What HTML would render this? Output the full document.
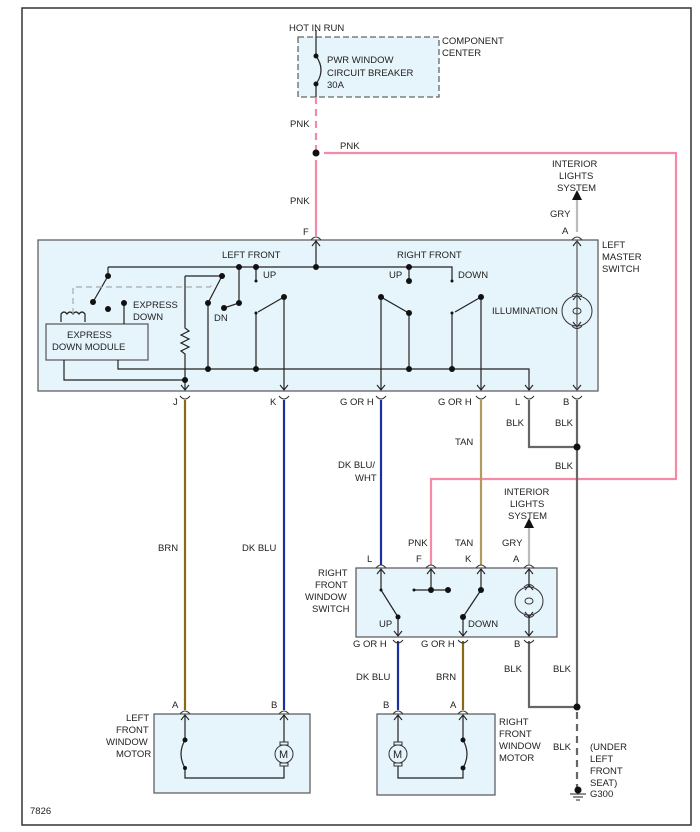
<!DOCTYPE html>
<html><head><meta charset="utf-8"><style>
html,body{margin:0;padding:0;background:#fff}
svg{display:block}
text{font-family:"Liberation Sans",sans-serif;font-size:9.5px;fill:#222}
</style></head><body>
<svg width="700" height="832" viewBox="0 0 700 832" xmlns="http://www.w3.org/2000/svg">
<rect x="22" y="8" width="669" height="817" fill="#fff" stroke="#333" stroke-width="1.5"/>
<g fill="#e6f4fb" stroke="#555" stroke-width="1.2">
<rect x="38" y="240" width="560" height="151"/>
<rect x="356" y="568" width="201" height="69"/>
<rect x="154" y="714" width="156" height="79"/>
<rect x="377" y="714" width="118" height="81"/>
<rect x="46" y="324" width="102" height="36"/>
</g>
<rect x="298" y="37" width="141" height="60" fill="#e6f4fb" stroke="#666" stroke-width="1.3" stroke-dasharray="6,3"/>

<g fill="none" stroke-width="2.2">
<path d="M316 97 V150" stroke="#f48aa6" stroke-dasharray="7,5"/>
<path d="M316 160 V236 M324 153 H676 V479 H431 V565" stroke="#f48aa6"/>
<path d="M185 400 V710" stroke="#8b6914"/>
<path d="M284 400 V710" stroke="#1a2fa0"/>
<path d="M381 400 V565" stroke="#1a2fa0"/>
<path d="M481 400 V565" stroke="#b09a5e"/>
<path d="M398 641 V710" stroke="#1a2fa0"/>
<path d="M463 641 V710" stroke="#8b6914"/>
<path d="M529 400 V447 H577 M577 400 V707 M529 641 V707 H577" stroke="#666"/>
<path d="M577 712 V788" stroke="#666" stroke-dasharray="7,5"/>
<path d="M577 232 V200 M529 565 V528" stroke="#bbb"/>
</g>
<path d="M577 190 l-5 10 h10z M529 518 l-5 10 h10z" fill="#111"/>

<g fill="none" stroke="#333" stroke-width="1">
<path d="M311 240 q5 -6 10 0 M572 240 q5 -6 10 0"/>
<path d="M180 396 q5 6 10 0 M279 396 q5 6 10 0 M376 396 q5 6 10 0 M476 396 q5 6 10 0 M524 396 q5 6 10 0 M572 396 q5 6 10 0"/>
<path d="M376 568 q5 -6 10 0 M426 568 q5 -6 10 0 M476 568 q5 -6 10 0 M524 568 q5 -6 10 0"/>
<path d="M393 640 q5 6 10 0 M458 640 q5 6 10 0 M524 640 q5 6 10 0"/>
<path d="M180 714 q5 -6 10 0 M279 714 q5 -6 10 0 M393 714 q5 -6 10 0 M458 714 q5 -6 10 0"/>
</g>

<g fill="none" stroke="#222" stroke-width="1.1">
<path d="M312 246 l4 -5 l4 5 M573 246 l4 -5 l4 5"/>
<path d="M181 385 l4 5 l4 -5 M280 385 l4 5 l4 -5 M377 385 l4 5 l4 -5 M477 385 l4 5 l4 -5 M525 385 l4 5 l4 -5 M573 385 l4 5 l4 -5"/>
<path d="M377 574 l4 -5 l4 5 M427 574 l4 -5 l4 5 M477 574 l4 -5 l4 5 M525 574 l4 -5 l4 5"/>
<path d="M394 631 l4 5 l4 -5 M459 631 l4 5 l4 -5 M525 631 l4 5 l4 -5"/>
<path d="M181 720 l4 -5 l4 5 M280 720 l4 -5 l4 5 M394 720 l4 -5 l4 5 M459 720 l4 -5 l4 5"/>
<path d="M573 300 l4 -5 l4 5 M573 322 l4 5 l4 -5 M525 590 l4 -5 l4 5 M525 612 l4 5 l4 -5"/>
</g>

<g fill="none" stroke="#222" stroke-width="1.2">
<path d="M316 30 V56 M316 84 V97 M316 56 q10 14 0 28"/>
<path d="M316 240 V267 M108 267 H452 V281 M108 267 V276 M108 276 L93 302"/>
<path d="M239 267 V303 L224 308 M256 267 V281 M409 267 V281"/>
<path d="M185 276 H222 L208 303 M208 303 V369 M185 276 V328 l4 3 l-8 4 l8 4 l-8 4 l8 4 l-8 4 l4 3 V390"/>
<path d="M124 303 V324 M118 360 V369 H529 V390"/>
<path d="M64 360 V380 H185"/>
<path d="M284 297 L258 312 M256 313 V369 M284 297 V390"/>
<path d="M381 297 L407 312 M409 313 V369 M381 297 V390"/>
<path d="M481 297 L455 312 M452 313 V369 M481 297 V390"/>
<path d="M577 241 V390" stroke="#555"/>
<path d="M61 322 V314 q3 -4 6 0 q3 -4 6 0 q3 -4 6 0 q3 -4 6 0 V322"/>
<path d="M381 590 V569"/>
<path d="M381 590 L398 617 M398 617 V636"/>
<path d="M431 590 V569 M414 590 H448" />
<path d="M481 590 V569 M481 590 L463 617 M463 617 V636"/>
<path d="M529 587 V569 M529 615 V636"/>
<path d="M185 740 V715 M185 740 q-8 14 0 28 M185 768 V778 H284 V766 M284 742 V715 M398 742 V715 M398 766 V778 H463 V768 M463 740 V715 M463 740 q8 14 0 28"/>
</g>
<path d="M73 314 V287 H210 L214 283" fill="none" stroke="#aaa" stroke-width="1.2" stroke-dasharray="6,4"/>
<g fill="none" stroke="#333" stroke-width="1">
<circle cx="577" cy="311" r="15"/><ellipse cx="577" cy="311" rx="4" ry="3"/>
<path d="M572 296 q5 -5 10 0 M572 326 q5 5 10 0"/>
<circle cx="529" cy="601" r="14"/><ellipse cx="529" cy="601" rx="4" ry="3"/>
<path d="M524 587 q5 -5 10 0 M524 615 q5 5 10 0"/>
<circle cx="284" cy="754" r="9"/><rect x="280" y="742" width="8" height="3"/><rect x="280" y="763" width="8" height="3"/>
<circle cx="398" cy="754" r="9"/><rect x="394" y="742" width="8" height="3"/><rect x="394" y="763" width="8" height="3"/>
</g>
<text x="279" y="758" style="font-size:11px">M</text><text x="393" y="758" style="font-size:11px">M</text>
<g fill="#111">
<circle cx="316" cy="153" r="3.5"/><circle cx="316" cy="267" r="3"/><circle cx="239" cy="267" r="3"/><circle cx="256" cy="267" r="3"/><circle cx="409" cy="267" r="3"/>
<circle cx="108" cy="276" r="3"/><circle cx="93" cy="302" r="3"/><circle cx="108" cy="309" r="3"/><circle cx="124" cy="303" r="3"/>
<circle cx="222" cy="276" r="3"/><circle cx="208" cy="303" r="3"/><circle cx="239" cy="303" r="3"/><circle cx="224" cy="308" r="3"/>
<circle cx="284" cy="297" r="3"/><circle cx="381" cy="297" r="3"/><circle cx="409" cy="313" r="3"/><circle cx="481" cy="297" r="3"/>
<circle cx="256" cy="313" r="1.5"/><circle cx="452" cy="313" r="1.5"/><circle cx="256" cy="281" r="1.5"/><circle cx="452" cy="281" r="1.5"/><circle cx="409" cy="281" r="3"/>
<circle cx="208" cy="369" r="3"/><circle cx="256" cy="369" r="3"/><circle cx="409" cy="369" r="3"/><circle cx="452" cy="369" r="3"/><circle cx="185" cy="380" r="3"/>
<circle cx="316" cy="56" r="2.5"/><circle cx="316" cy="84" r="2.5"/>
<circle cx="577" cy="447" r="3.5"/><circle cx="577" cy="707" r="3.5"/><circle cx="578" cy="790" r="3.5"/>
<circle cx="431" cy="590" r="3"/><circle cx="448" cy="590" r="3"/><circle cx="414" cy="590" r="1.5"/>
<circle cx="381" cy="590" r="1.5"/><circle cx="398" cy="617" r="2.5"/><circle cx="481" cy="590" r="3"/><circle cx="463" cy="617" r="3"/>
<circle cx="185" cy="740" r="2.5"/><circle cx="185" cy="768" r="2"/><circle cx="463" cy="740" r="2.5"/><circle cx="463" cy="768" r="2.5"/>
</g>
<path d="M570 794 H586 M573 797 H583 M576 800 H580" stroke="#222" stroke-width="1"/>

<text x="289" y="31">HOT IN RUN</text>
<text x="442" y="44">COMPONENT</text><text x="442" y="56">CENTER</text>
<text x="327" y="63">PWR WINDOW</text><text x="327" y="76">CIRCUIT BREAKER</text><text x="327" y="88">30A</text>
<text x="290" y="127">PNK</text><text x="340" y="149">PNK</text><text x="290" y="204">PNK</text><text x="303" y="235">F</text>
<text x="552" y="167">INTERIOR</text><text x="559" y="179">LIGHTS</text><text x="557" y="191">SYSTEM</text>
<text x="550" y="217">GRY</text><text x="562" y="234">A</text>
<text x="602" y="248">LEFT</text><text x="602" y="260">MASTER</text><text x="602" y="272">SWITCH</text>
<text x="222" y="258">LEFT FRONT</text><text x="397" y="258">RIGHT FRONT</text>
<text x="263" y="278">UP</text><text x="389" y="278">UP</text><text x="458" y="278">DOWN</text>
<text x="133" y="308">EXPRESS</text><text x="133" y="320">DOWN</text><text x="214" y="321">DN</text>
<text x="492" y="314">ILLUMINATION</text>
<text x="67" y="338">EXPRESS</text><text x="52" y="350">DOWN MODULE</text>
<text x="173" y="405">J</text><text x="270" y="405">K</text><text x="340" y="405">G OR H</text><text x="438" y="405">G OR H</text><text x="515" y="405">L</text><text x="563" y="405">B</text>
<text x="506" y="426">BLK</text><text x="555" y="426">BLK</text><text x="455" y="445">TAN</text><text x="555" y="469">BLK</text>
<text x="338" y="468">DK BLU/</text><text x="355" y="481">WHT</text>
<text x="158" y="551">BRN</text><text x="242" y="551">DK BLU</text>
<text x="504" y="495">INTERIOR</text><text x="510" y="507">LIGHTS</text><text x="508" y="519">SYSTEM</text>
<text x="408" y="546">PNK</text><text x="455" y="546">TAN</text><text x="502" y="546">GRY</text>
<text x="367" y="562">L</text><text x="416" y="562">F</text><text x="465" y="562">K</text><text x="513" y="562">A</text>
<text x="318" y="576">RIGHT</text><text x="315" y="588">FRONT</text><text x="305" y="600">WINDOW</text><text x="312" y="612">SWITCH</text>
<text x="379" y="627">UP</text><text x="468" y="627">DOWN</text>
<text x="353" y="647">G OR H</text><text x="421" y="647">G OR H</text><text x="514" y="647">B</text>
<text x="504" y="672">BLK</text><text x="553" y="672">BLK</text>
<text x="356" y="680">DK BLU</text><text x="436" y="680">BRN</text>
<text x="172" y="708">A</text><text x="271" y="708">B</text><text x="383" y="708">B</text><text x="450" y="708">A</text>
<text x="126" y="721">LEFT</text><text x="116" y="733">FRONT</text><text x="106" y="745">WINDOW</text><text x="116" y="757">MOTOR</text>
<text x="499" y="725">RIGHT</text><text x="499" y="737">FRONT</text><text x="499" y="749">WINDOW</text><text x="499" y="761">MOTOR</text>
<text x="553" y="750">BLK</text>
<text x="590" y="750">(UNDER</text><text x="590" y="762">LEFT</text><text x="590" y="774">FRONT</text><text x="590" y="786">SEAT)</text><text x="590" y="797">G300</text>
<text x="30" y="814">7826</text>
</svg>
</body></html>
